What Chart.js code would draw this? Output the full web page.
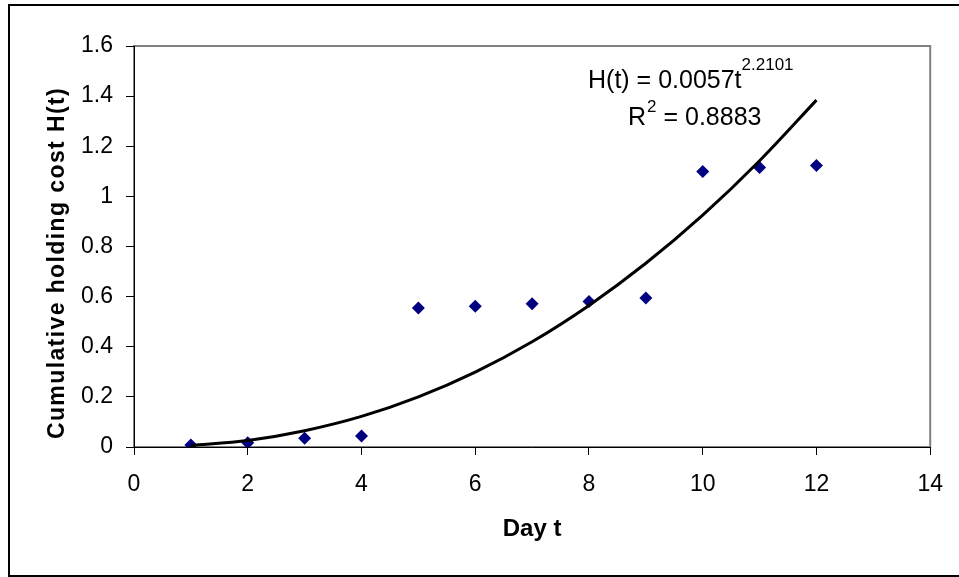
<!DOCTYPE html>
<html><head><meta charset="utf-8">
<script src="https://cdn.jsdelivr.net/npm/chart.js@4/dist/chart.umd.min.js"></script>
<style>html,body{margin:0;padding:0;background:#fff}</style>
</head><body>
<canvas id="c" width="959" height="577"></canvas>
<script>
// Observed data
const days = [1, 2, 3, 4, 5, 6, 7, 8, 9, 10, 11, 12];
const holdingCost = [0.008, 0.017, 0.035, 0.044, 0.555, 0.562, 0.572, 0.581, 0.595, 1.099, 1.115, 1.123];
// Power trendline
const trendDays = [1, 2, 3, 4, 5, 6, 7, 8, 9, 10, 11, 12];
const trendValues = [0.006, 0.026, 0.065, 0.122, 0.200, 0.299, 0.420, 0.565, 0.733, 0.925, 1.142, 1.384];
// Tick labels
const xTickLabels = ['0', '2', '4', '6', '8', '10', '12', '14'];
const yTickLabels = ['0', '0.2', '0.4', '0.6', '0.8', '1', '1.2', '1.4', '1.6'];
const xTitle = 'Day t';
const yTitle = 'Cumulative holding cost H(t)';
const equationText = 'H(t) = 0.0057t';
const equationExp = '2.2101';
const rText = 'R';
const rExp = '2';
const rValue = ' = 0.8883';

const FONT = '"Liberation Sans", Arial, sans-serif';

const framePlugin = {
  id: 'frame',
  beforeDraw(chart) {
    const ctx = chart.ctx;
    const a = chart.chartArea;
    ctx.save();
    ctx.fillStyle = '#fff';
    ctx.fillRect(0, 0, chart.width, chart.height);
    ctx.strokeStyle = '#000';
    ctx.lineWidth = 2;
    ctx.strokeRect(9, 5, 980, 571);
    ctx.strokeStyle = '#808080';
    ctx.lineWidth = 2;
    ctx.strokeRect(a.left, a.top, a.right - a.left, a.bottom - a.top);
    ctx.restore();
  },
  afterDraw(chart) {
    const ctx = chart.ctx;
    ctx.save();
    ctx.fillStyle = '#000';
    // y-axis title
    ctx.save();
    ctx.translate(58, 263);
    ctx.rotate(-Math.PI / 2);
    ctx.font = 'bold 23px ' + FONT;
    ctx.letterSpacing = '1.4px';
    ctx.textAlign = 'center';
    ctx.textBaseline = 'middle';
    ctx.fillText(yTitle, 0, 0);
    ctx.restore();
    // trendline equation
    ctx.textBaseline = 'alphabetic';
    ctx.textAlign = 'left';
    ctx.font = '25px ' + FONT;
    let x = 588, y = 88;
    ctx.fillText(equationText, x, y);
    let w = ctx.measureText(equationText).width;
    ctx.font = '17px ' + FONT;
    ctx.fillText(equationExp, x + w, y - 18);
    ctx.font = '25px ' + FONT;
    x = 628; y = 125;
    ctx.fillText(rText, x, y);
    w = ctx.measureText(rText).width;
    ctx.font = '17px ' + FONT;
    ctx.fillText(rExp, x + w + 1, y - 13);
    const w2 = ctx.measureText(rExp).width;
    ctx.font = '25px ' + FONT;
    ctx.fillText(rValue, x + w + 1 + w2, y);
    ctx.restore();
  }
};

new Chart(document.getElementById('c'), {
  type: 'scatter',
  data: {
    datasets: [
      {
        type: 'line',
        label: 'Trend',
        data: trendDays.map((d, i) => ({x: d, y: trendValues[i]})),
        borderColor: '#000',
        borderWidth: 3,
        pointRadius: 0,
        fill: false,
        cubicInterpolationMode: 'monotone',
        order: 0
      },
      {
        label: 'H(t)',
        data: days.map((d, i) => ({x: d, y: holdingCost[i]})),
        backgroundColor: '#000080',
        borderColor: '#000080',
        borderWidth: 0,
        pointStyle: 'rectRot',
        pointRadius: 6.5,
        order: 1
      }
    ]
  },
  options: {
    responsive: false,
    animation: false,
    devicePixelRatio: 1,
    layout: { padding: { left: 0, top: 46, right: 26, bottom: 0 } },
    plugins: { legend: { display: false }, tooltip: { enabled: false } },
    scales: {
      x: {
        type: 'linear',
        min: 0, max: 14,
        afterFit(s) { s.height = 130; },
        ticks: {
          stepSize: 2,
          color: '#000',
          padding: 16,
          font: { family: FONT, size: 23 },
          callback: (v, i) => xTickLabels[i]
        },
        grid: { drawOnChartArea: false, drawTicks: true, tickLength: 8, color: '#000' },
        border: { color: '#000', width: 1 },
        title: {
          display: true, text: xTitle, color: '#000',
          font: { family: FONT, size: 24, weight: 'bold' },
          padding: { top: 0, bottom: 33 }
        }
      },
      y: {
        type: 'linear',
        min: 0, max: 1.6,
        afterFit(s) { s.width = 134; },
        ticks: {
          stepSize: 0.2,
          color: '#000',
          padding: 13,
          font: { family: FONT, size: 23 },
          callback: (v, i) => yTickLabels[i]
        },
        grid: { drawOnChartArea: false, drawTicks: true, tickLength: 8, color: '#000' },
        border: { color: '#000', width: 1 },
        title: { display: false }
      }
    }
  },
  plugins: [framePlugin]
});
</script>
</body></html>
